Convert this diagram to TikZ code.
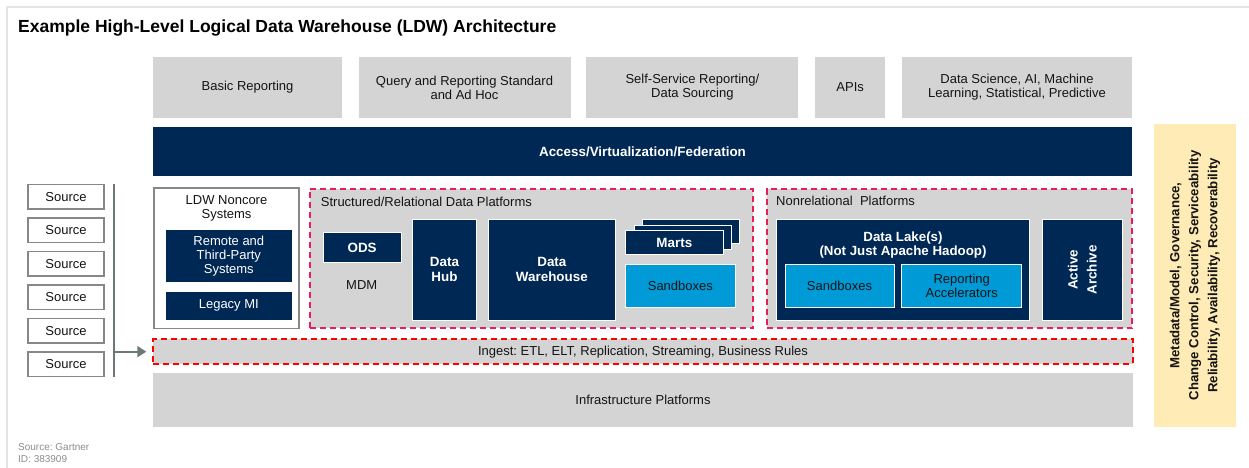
\documentclass[tikz,border=0pt]{standalone}
\usepackage{fontspec}
\setmainfont{Liberation Sans}
\usetikzlibrary{arrows.meta}

\definecolor{navy}{RGB}{0,40,85}
\definecolor{boxgray}{RGB}{212,212,212}
\definecolor{lblue}{RGB}{0,154,214}
\definecolor{govyellow}{RGB}{255,235,181}
\definecolor{crimson}{RGB}{230,30,90}
\definecolor{ingestred}{RGB}{255,0,0}
\definecolor{srcgray}{RGB}{135,135,135}
\definecolor{arrgray}{RGB}{110,120,120}
\definecolor{framegray}{RGB}{228,228,228}
\definecolor{notegray}{RGB}{140,140,140}
\definecolor{txt}{RGB}{20,20,20}

\frenchspacing
\newcommand\fbody{\fontsize{13}{14}\selectfont}
\newcommand\fbold{\fontsize{13.4}{15}\selectfont\bfseries}
\newcommand\ftitle{\fontsize{17.5}{20}\selectfont\bfseries}
\newcommand\fnote{\fontsize{10}{12.3}\selectfont}

\begin{document}
\begin{tikzpicture}[x=1pt,y=-1pt,
  sz/.style 2 args={minimum width=#1pt,minimum height=#2pt},
  base/.style={rectangle,inner sep=0pt,align=center},
  gbox/.style={base,fill=boxgray,text=txt,font=\fbody},
  navybox/.style={base,fill=navy,draw=white,line width=1pt,text=white,font=\fbold},
  bluebox/.style={base,fill=lblue,draw=white,line width=1pt,text=txt,font=\fbody},
  srcbox/.style={base,fill=white,draw=srcgray,line width=1.5pt,text=txt,font=\fbody},
  platform/.style={base,fill=boxgray,draw=crimson,line width=2pt,dash pattern=on 6pt off 4pt},
  ingestbox/.style={base,fill=boxgray,draw=ingestred,line width=2pt,dash pattern=on 6pt off 4pt,text=txt,font=\fbody},
  lbl/.style={inner sep=0pt,text=txt,font=\fbody,align=center},
  feed/.style={draw=arrgray,line width=2pt},
  feedarrow/.style={draw=arrgray,line width=2pt,-{Triangle[length=9pt,width=11pt]}}
]
\useasboundingbox (0,0) rectangle (1249,468);

% outer frame
\draw[framegray,line width=2pt] (7,468) -- (7,7) -- (1249,7);

% title
\node[anchor=west,inner sep=0pt,font=\ftitle,text=black] (title) at (18,28)
  {Example High-Level Logical Data Warehouse (LDW) Architecture};

% consumers
\node[gbox,sz={189}{61}] (basic) at (247.5,87.5) {Basic Reporting};
\node[gbox,sz={212}{61}] (query) at (464.5,87.5) {Query and Reporting Standard\\and Ad Hoc};
\node[gbox,sz={212}{61}] (self) at (692.4,87.5) {Self-Service Reporting/\\Data Sourcing};
\node[gbox,sz={70.5}{61}] (apis) at (850.2,87.5) {APIs};
\node[gbox,sz={230}{61}] (dsci) at (1017,87.5) {Data Science, AI, Machine\\Learning, Statistical, Predictive};

% access layer
\node[navybox,draw=none,sz={979}{49}] (access) at (642.5,151.5) {Access/Virtualization/Federation};

% governance column
\node[base,fill=govyellow,sz={82}{303}] (govern) at (1195,275.5) {};
\node[lbl,rotate=90,font=\fontsize{13.2}{19}\selectfont\bfseries] (governtext) at (govern.center)
  {Metadata/Model, Governance,\\Change Control, Security, Serviceability\\Reliability, Availability, Recoverability};

% sources
\foreach \i/\y in {1/196.7,2/230.2,3/263.7,4/297.2,5/330.7,6/364.2}{
  \node[srcbox,sz={76}{24.5}] (src\i) at (66,\y) {Source};
}
\coordinate (bartop) at (114,184.3);
\coordinate (barbot) at (114,376.7);
\coordinate (barmid) at (114,351.65);
\draw[feed] (bartop) -- (barbot);

% LDW noncore systems
\node[base,fill=white,draw=srcgray,line width=1.5pt,sz={145}{140.5}] (noncore) at (226.5,258.25) {};
\node[lbl] (noncoretext) at (226.5,208.3) {LDW Noncore\\Systems};
\node[navybox,font=\fbody,sz={127}{53}] (remote) at (228.8,256.2) {Remote and\\Third-Party\\Systems};
\node[navybox,font=\fbody,sz={127}{28.7}] (legacy) at (228.8,305.65) {Legacy MI};

% structured / relational platforms
\node[platform,sz={443.5}{139.8}] (structured) at (531.25,258.4) {};
\node[lbl,anchor=west] (structuredtext) at (320.7,201.5) {Structured/Relational Data Platforms};
\node[navybox,sz={77.7}{29.6}] (ods) at (362.15,247.5) {ODS};
\node[lbl] (mdm) at (361.7,285) {MDM};
\node[navybox,sz={64.4}{101.7}] (hub) at (444.5,269.85) {Data\\Hub};
\node[navybox,sz={126.3}{101.7}] (dwh) at (551.85,269.85) {Data\\Warehouse};
\node[navybox,sz={97}{24}] (martsC) at (690.5,231) {};
\node[navybox,sz={97}{24}] (martsB) at (682.5,237) {};
\node[navybox,sz={97.3}{24}] (marts) at (674.35,242.7) {Marts};
\node[bluebox,sz={109.3}{43.3}] (sandbox1) at (680.35,285.65) {Sandboxes};

% nonrelational platforms
\node[platform,sz={365.6}{139.3}] (nonrel) at (949.5,258.65) {};
\node[lbl,anchor=west] (nonreltext) at (776,201) {Nonrelational~ Platforms};
\node[navybox,sz={252.6}{101.7}] (lake) at (903,269.85) {};
\node[lbl,text=white,font=\fontsize{13.3}{13.6}\selectfont\bfseries] (laketext) at (903,245)
  {Data Lake(s)\\(Not Just Apache Hadoop)};
\node[bluebox,sz={109}{43.4}] (sandbox2) at (839.5,286) {Sandboxes};
\node[bluebox,sz={120}{43.4}] (accel) at (961.7,286) {Reporting\\Accelerators};
\node[navybox,sz={79.3}{101.7}] (archive) at (1082.35,269.85) {};
\node[lbl,rotate=90,text=white,font=\fontsize{13.4}{19}\selectfont\bfseries] (archivetext) at (archive.center)
  {Active\\Archive};

% ingest and infrastructure
\node[ingestbox,sz={979.4}{24.7}] (ingest) at (643,351.65) {Ingest: ETL, ELT, Replication, Streaming, Business Rules};
\node[gbox,sz={979.4}{54}] (infra) at (643,399.7) {Infrastructure Platforms};

\draw[feedarrow,shorten >=6pt] (barmid) -- (ingest.west);

% footnote
\node[anchor=north west,inner sep=0pt,align=left,font=\fnote,text=notegray] (note) at (18,443)
  {Source: Gartner\\ID: 383909};
\end{tikzpicture}
\end{document}
